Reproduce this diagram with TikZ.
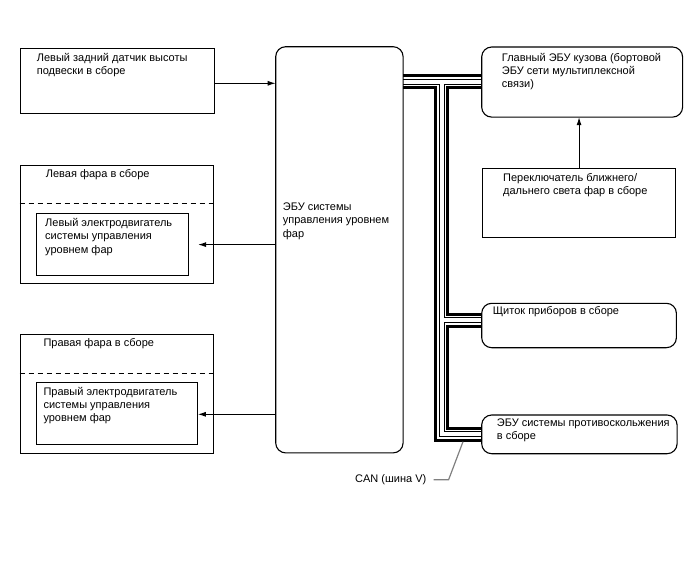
\documentclass[tikz,border=0pt]{standalone}
\usepackage{fontspec}
\setmainfont{Liberation Sans}
\usetikzlibrary{arrows.meta,calc}
\begin{document}
\begin{tikzpicture}[x=1pt,y=-1pt,
  box/.style={draw=black, line width=1.1pt, inner sep=0pt, anchor=north west},
  rbox/.style={inner sep=0pt, anchor=north west},
  rborder/.style={line width=1.1pt, rounded corners=10pt},
  lbl/.style={anchor=north west, inner sep=0pt, align=left, font=\fontsize{11}{13.3}\selectfont},
  arr/.style={line width=1.1pt, -{Latex[length=8pt,width=5pt]}},
  sep/.style={line width=0.9pt, dash pattern=on 5pt off 4pt},
  leader/.style={line width=1.2pt, draw=gray},
]
\useasboundingbox (0,0) rectangle (688,560);

% CAN bus junction points
\coordinate (jt) at (441.7,81.7);
\coordinate (jm) at (441.7,320);
\coordinate (jb) at (441.7,434);

% boxes (named shapes)
\node[box, minimum width=194.5pt, minimum height=65.5pt] (sensor) at (19.5,47.5) {};
\node[box, minimum width=193.2pt, minimum height=118.3pt] (llamp) at (19.5,165) {};
\node[box, minimum width=152.3pt, minimum height=61.7pt] (lmotor) at (36,213.3) {};
\node[box, minimum width=193.5pt, minimum height=119pt] (rlamp) at (19.5,334.3) {};
\node[box, minimum width=160.7pt, minimum height=62pt] (rmotor) at (36,382.3) {};
\node[rbox, minimum width=127pt, minimum height=405.8pt] (ecu) at (275.7,46.7) {};
\node[rbox, minimum width=200.5pt, minimum height=69.7pt] (body) at (481.7,47) {};
\node[box, minimum width=193pt, minimum height=69pt] (switch) at (482,167.7) {};
\node[rbox, minimum width=194.3pt, minimum height=44pt] (cluster) at (481.7,303.3) {};
\node[rbox, minimum width=195pt, minimum height=38.3pt] (skid) at (481.7,415) {};

% CAN bus cable (layered)
\foreach \w/\c in {15/black, 9/white, 6/black, 4/white} {
  \draw[line width=\w pt, draw=\c]
    (ecu.east |- jt) -- (body.west |- jt)
    (jt) -- (jb) -- (skid.west |- jb)
    (jm) -- (cluster.west |- jm);
}
% rounded borders drawn over the cable ends
\draw[rborder] (ecu.north west) rectangle (ecu.south east);
\draw[rborder] (body.north west) rectangle (body.south east);
\draw[rborder] (cluster.north west) rectangle (cluster.south east);
\draw[rborder] (skid.north west) rectangle (skid.south east);

% dashed separators in headlamp assemblies
\draw[sep] (llamp.west |- 0,203.5) -- (llamp.east |- 0,203.5);
\draw[sep] (rlamp.west |- 0,373.3) -- (rlamp.east |- 0,373.3);

% texts
\node[lbl] (tsensor) at (36.7,53) {Левый задний датчик высоты\\подвески в сборе};
\node[lbl] (tllamp) at (45.7,169.3) {Левая фара в сборе};
\node[lbl] (tlmotor) at (45,218.3) {Левый электродвигатель\\системы управления\\уровнем фар};
\node[lbl] (trlamp) at (43.3,338.5) {Правая фара в сборе};
\node[lbl] (trmotor) at (43.3,386.7) {Правый электродвигатель\\системы управления\\уровнем фар};
\node[lbl] (tecu) at (282.7,202.7) {ЭБУ системы\\управления уровнем\\фар};
\node[lbl] (tbody) at (501.7,52.7) {Главный ЭБУ кузова (бортовой\\ЭБУ сети мультиплексной\\связи)};
\node[lbl] (tswitch) at (503,173.3) {Переключатель ближнего/\\дальнего света фар в сборе};
\node[lbl] (tcluster) at (492.7,306.7) {Щиток приборов в сборе};
\node[lbl] (tskid) at (496.7,418.3) {ЭБУ системы противоскольжения\\в сборе};
\node[lbl] (can) at (355,474.5) {CAN (шина V)};

% arrows
\coordinate (ltip) at (198,244.6);
\draw[arr] (sensor.east |- 0,83.3) -- (ecu.west |- 0,83.3);
\draw[arr] (ecu.west |- ltip) -- (ltip);
\draw[arr] (ecu.west |- 0,414.3) -- (rmotor.east |- 0,414.3);
\draw[arr] (switch.north) -- (body.south -| switch.north);

% CAN leader
\coordinate (canpt) at (463,441.7);
\draw[leader] ([xshift=7pt]can.east) -- ++(15,0) -- (canpt);
\end{tikzpicture}
\end{document}
